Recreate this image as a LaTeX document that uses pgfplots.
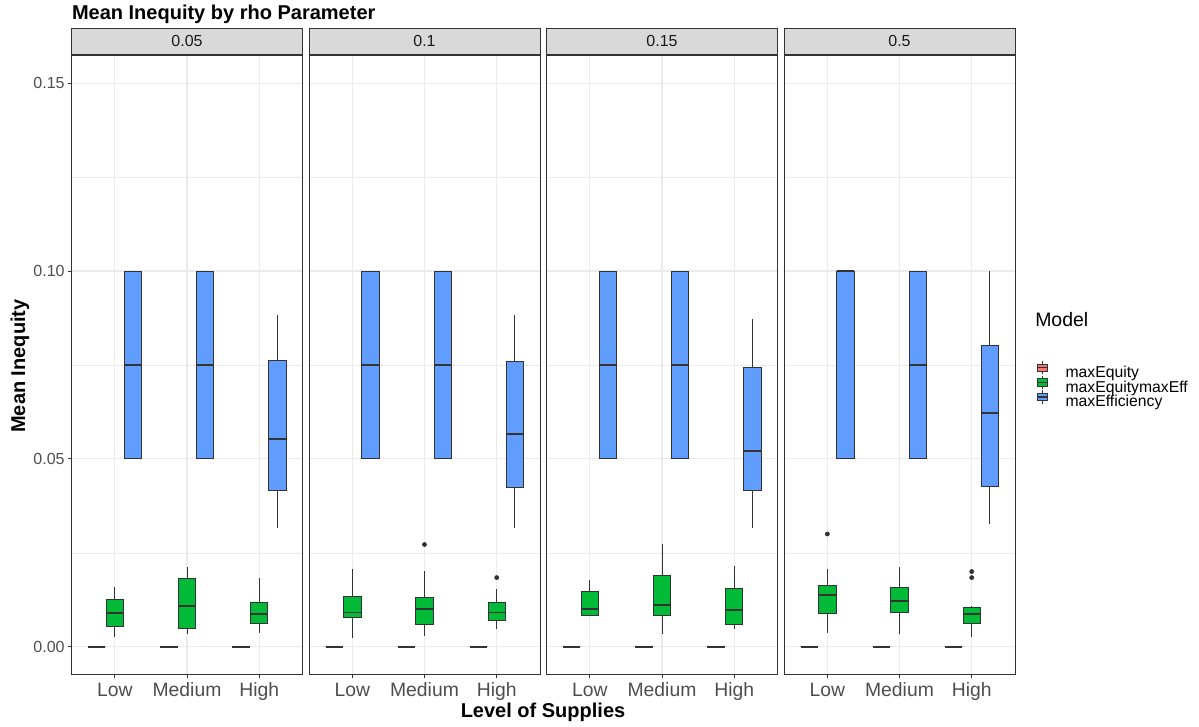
\documentclass[border=0pt]{standalone}
\usepackage{pgfplots}
\pgfplotsset{compat=1.18}
\usepgfplotslibrary{statistics}
\usepackage{fontspec}
\setmainfont{Liberation Sans}
\definecolor{grey10}{HTML}{1A1A1A}
\definecolor{grey20}{HTML}{333333}
\definecolor{grey30}{HTML}{4D4D4D}
\definecolor{grey85}{HTML}{D9D9D9}
\definecolor{grey92}{HTML}{EBEBEB}
\definecolor{cEq}{HTML}{F8766D}
\definecolor{cMM}{HTML}{00BA38}
\definecolor{cEf}{HTML}{619CFF}
\pgfplotsset{
 panel/.style={
  scale only axis, width=173.25pt, height=464.6pt, anchor=south west,
  xmin=0.4, xmax=3.6, ymin=-0.0074, ymax=0.1575,
  xtick={1,2,3}, xticklabels={Low,Medium,High},
  ytick={0,0.05,0.1,0.15}, minor ytick={0.025,0.075,0.125},
  yticklabels={0.00,0.05,0.10,0.15},
  grid=both,
  major grid style={draw=grey92, line width=0.8pt},
  minor grid style={draw=grey92, line width=0.4pt},
  axis line style={draw=grey20, line width=0.65pt},
  tick align=outside, major tick length=3pt, minor tick length=0pt,
  tick style={draw=grey20, line width=0.65pt},
  xtick pos=left, ytick pos=left,
  xticklabel style={font=\fontsize{14.5}{16}\selectfont, text=grey30, inner sep=0pt, text height=10.8pt, text depth=3pt, yshift=-2.5pt},
  yticklabel style={font=\fontsize{12}{14}\selectfont, text=grey30, inner sep=0pt, xshift=-2pt},
  boxplot/draw direction=y,
  boxplot/box extend=0.24, boxplot/whisker extend=0,
  boxplot/every median/.style={line width=1.3pt},
  every axis title shift=0pt,
  title style={at={(0.5,1)}, anchor=south, draw=grey20, fill=grey85, line width=0.65pt,
    minimum width=173.25pt, minimum height=19.9pt, inner sep=0pt,
    font=\fontsize{12}{14}\selectfont, text=grey10},
 },
 noy/.style={yticklabels={}, ytick style={draw=none}},
 beq/.style={draw=grey20, fill=cEq, line width=0.55pt, mark=none},
 bmm/.style={draw=grey20, fill=cMM, line width=0.55pt, mark=*, mark size=1.5pt, mark options={draw=grey20, fill=grey20}},
 bef/.style={draw=grey20, fill=cEf, line width=0.55pt, mark=none},
 boxkey/.style={legend image code/.code={
   \draw[draw=grey20, line width=0.6pt] (4pt,-1pt) -- (4pt,9pt);
   \draw[draw=grey20, line width=0.6pt, fill=#1] (0pt,1.2pt) rectangle (8pt,6.8pt);
   \draw[draw=grey20, line width=1pt] (0pt,4pt) -- (8pt,4pt);
 }},
}
\begin{document}
\begin{tikzpicture}
\useasboundingbox (0,0) rectangle (899.25pt,545.25pt);
% ---------- panel 0.05
\begin{axis}[panel, at={(53.625pt,39.375pt)}, title={0.05}]
\addplot[beq, boxplot prepared={draw position=0.75,lower whisker=0,lower quartile=0,median=0,upper quartile=0,upper whisker=0}] coordinates {};
\addplot[bmm, boxplot prepared={draw position=1,lower whisker=0.0025,lower quartile=0.0055,median=0.0090,upper quartile=0.0126,upper whisker=0.0160}] coordinates {};
\addplot[bef, boxplot prepared={draw position=1.25,lower whisker=0.05,lower quartile=0.05,median=0.075,upper quartile=0.1,upper whisker=0.1}] coordinates {};
\addplot[beq, boxplot prepared={draw position=1.75,lower whisker=0,lower quartile=0,median=0,upper quartile=0,upper whisker=0}] coordinates {};
\addplot[bmm, boxplot prepared={draw position=2,lower whisker=0.0033,lower quartile=0.0048,median=0.0108,upper quartile=0.0182,upper whisker=0.0211}] coordinates {};
\addplot[bef, boxplot prepared={draw position=2.25,lower whisker=0.05,lower quartile=0.05,median=0.075,upper quartile=0.1,upper whisker=0.1}] coordinates {};
\addplot[beq, boxplot prepared={draw position=2.75,lower whisker=0,lower quartile=0,median=0,upper quartile=0,upper whisker=0}] coordinates {};
\addplot[bmm, boxplot prepared={draw position=3,lower whisker=0.0037,lower quartile=0.0062,median=0.0087,upper quartile=0.0117,upper whisker=0.0184}] coordinates {};
\addplot[bef, boxplot prepared={draw position=3.25,lower whisker=0.0315,lower quartile=0.0415,median=0.0553,upper quartile=0.0762,upper whisker=0.0882}] coordinates {};
\end{axis}
% ---------- panel 0.1
\begin{axis}[panel, noy, at={(231.75pt,39.375pt)}, title={0.1}]
\addplot[beq, boxplot prepared={draw position=0.75,lower whisker=0,lower quartile=0,median=0,upper quartile=0,upper whisker=0}] coordinates {};
\addplot[bmm, boxplot prepared={draw position=1,lower whisker=0.0024,lower quartile=0.0077,median=0.0091,upper quartile=0.0135,upper whisker=0.0206}] coordinates {};
\addplot[bef, boxplot prepared={draw position=1.25,lower whisker=0.05,lower quartile=0.05,median=0.075,upper quartile=0.1,upper whisker=0.1}] coordinates {};
\addplot[beq, boxplot prepared={draw position=1.75,lower whisker=0,lower quartile=0,median=0,upper quartile=0,upper whisker=0}] coordinates {};
\addplot[bmm, boxplot prepared={draw position=2,lower whisker=0.0029,lower quartile=0.0059,median=0.0100,upper quartile=0.0130,upper whisker=0.0201}] table[row sep=\\,y index=0] {y\\ 0.0272\\};
\addplot[bef, boxplot prepared={draw position=2.25,lower whisker=0.05,lower quartile=0.05,median=0.075,upper quartile=0.1,upper whisker=0.1}] coordinates {};
\addplot[beq, boxplot prepared={draw position=2.75,lower whisker=0,lower quartile=0,median=0,upper quartile=0,upper whisker=0}] coordinates {};
\addplot[bmm, boxplot prepared={draw position=3,lower whisker=0.0046,lower quartile=0.0071,median=0.0091,upper quartile=0.0118,upper whisker=0.0153}] table[row sep=\\,y index=0] {y\\ 0.0184\\};
\addplot[bef, boxplot prepared={draw position=3.25,lower whisker=0.0315,lower quartile=0.0423,median=0.0566,upper quartile=0.0760,upper whisker=0.0882}] coordinates {};
\end{axis}
% ---------- panel 0.15
\begin{axis}[panel, noy, at={(409.875pt,39.375pt)}, title={0.15}]
\addplot[beq, boxplot prepared={draw position=0.75,lower whisker=0,lower quartile=0,median=0,upper quartile=0,upper whisker=0}] coordinates {};
\addplot[bmm, boxplot prepared={draw position=1,lower whisker=0.0082,lower quartile=0.0084,median=0.0100,upper quartile=0.0146,upper whisker=0.0177}] coordinates {};
\addplot[bef, boxplot prepared={draw position=1.25,lower whisker=0.05,lower quartile=0.05,median=0.075,upper quartile=0.1,upper whisker=0.1}] coordinates {};
\addplot[beq, boxplot prepared={draw position=1.75,lower whisker=0,lower quartile=0,median=0,upper quartile=0,upper whisker=0}] coordinates {};
\addplot[bmm, boxplot prepared={draw position=2,lower whisker=0.0033,lower quartile=0.0084,median=0.0111,upper quartile=0.0189,upper whisker=0.0273}] coordinates {};
\addplot[bef, boxplot prepared={draw position=2.25,lower whisker=0.05,lower quartile=0.05,median=0.075,upper quartile=0.1,upper whisker=0.1}] coordinates {};
\addplot[beq, boxplot prepared={draw position=2.75,lower whisker=0,lower quartile=0,median=0,upper quartile=0,upper whisker=0}] coordinates {};
\addplot[bmm, boxplot prepared={draw position=3,lower whisker=0.0046,lower quartile=0.0059,median=0.0098,upper quartile=0.0155,upper whisker=0.0215}] coordinates {};
\addplot[bef, boxplot prepared={draw position=3.25,lower whisker=0.0315,lower quartile=0.0415,median=0.0521,upper quartile=0.0744,upper whisker=0.0873}] coordinates {};
\end{axis}
% ---------- panel 0.5
\begin{axis}[panel, noy, at={(588pt,39.375pt)}, title={0.5},
  legend style={at={(1.0909,0.4673)}, anchor=west, draw=none, fill=none, inner sep=0pt,
    row sep=-3.5pt, column sep=13pt, legend cell align=left,
    nodes={inner sep=0pt, text height=8.5pt, text depth=2pt, font=\fontsize{11.8}{13}\selectfont, text=black}}]
\addlegendimage{boxkey=cEq}
\addlegendimage{boxkey=cMM}
\addlegendimage{boxkey=cEf}
\legend{maxEquity,maxEquitymaxEff,maxEfficiency}
\addplot[beq, boxplot prepared={draw position=0.75,lower whisker=0,lower quartile=0,median=0,upper quartile=0,upper whisker=0}] coordinates {};
\addplot[bmm, boxplot prepared={draw position=1,lower whisker=0.0037,lower quartile=0.0089,median=0.0138,upper quartile=0.0162,upper whisker=0.0206}] table[row sep=\\,y index=0] {y\\ 0.0300\\};
\addplot[bef, boxplot prepared={draw position=1.25,lower whisker=0.05,lower quartile=0.05,median=0.1,upper quartile=0.1,upper whisker=0.1}] coordinates {};
\addplot[beq, boxplot prepared={draw position=1.75,lower whisker=0,lower quartile=0,median=0,upper quartile=0,upper whisker=0}] coordinates {};
\addplot[bmm, boxplot prepared={draw position=2,lower whisker=0.0033,lower quartile=0.0091,median=0.0122,upper quartile=0.0159,upper whisker=0.0211}] coordinates {};
\addplot[bef, boxplot prepared={draw position=2.25,lower whisker=0.05,lower quartile=0.05,median=0.075,upper quartile=0.1,upper whisker=0.1}] coordinates {};
\addplot[beq, boxplot prepared={draw position=2.75,lower whisker=0,lower quartile=0,median=0,upper quartile=0,upper whisker=0}] coordinates {};
\addplot[bmm, boxplot prepared={draw position=3,lower whisker=0.0027,lower quartile=0.0062,median=0.0087,upper quartile=0.0106,upper whisker=0.0108}] table[row sep=\\,y index=0] {y\\ 0.0184\\ 0.0200\\};
\addplot[bef, boxplot prepared={draw position=3.25,lower whisker=0.0326,lower quartile=0.0426,median=0.0623,upper quartile=0.0802,upper whisker=0.1000}] coordinates {};
\end{axis}
% ---------- titles and labels
\node[anchor=base west, inner sep=0pt, font=\bfseries\fontsize{15}{18}\selectfont] at (53.8pt,530.6pt) {Mean Inequity by rho Parameter};
\node[rotate=90, inner sep=0pt, font=\bfseries\fontsize{15}{18}\selectfont] at (15pt,270.75pt) {Mean Inequity};
\node[anchor=base, inner sep=0pt, font=\bfseries\fontsize{15}{18}\selectfont] at (407.25pt,6.75pt) {Level of Supplies};
\node[anchor=west, inner sep=0pt, font=\fontsize{14.6}{17}\selectfont] at (776.25pt,305.25pt) {Model};
\end{tikzpicture}
\end{document}
